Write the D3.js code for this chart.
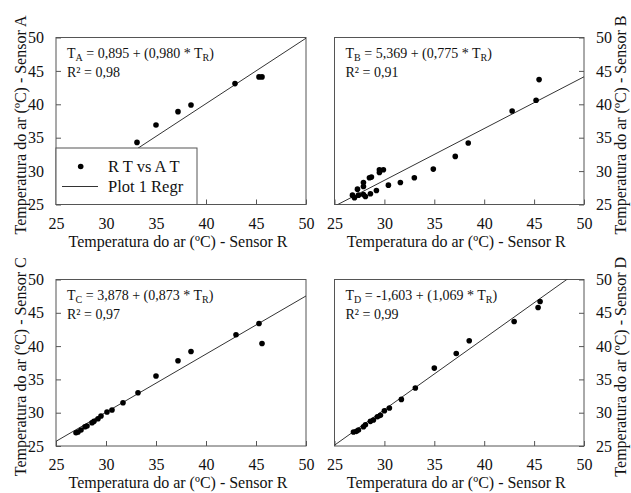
<!DOCTYPE html>
<html>
<head>
<meta charset="utf-8">
<script src="https://cdn.jsdelivr.net/npm/d3@7"></script>
<style>
    body { margin: 0; background: #fff; }
    svg { display: block; }
    text { font-family: "Liberation Serif", "DejaVu Serif", serif; }
</style>
</head>
<body>
<div id="chart"></div>
<script>
// axis ticks shared by all four panels
const TICKS = [25, 30, 35, 40, 45, 50];

// sensor R temperature vs sensor temperature
const rA = [33.1, 35.0, 37.2, 38.5, 42.9, 45.3, 45.6];
const tA = [34.3, 36.9, 38.9, 39.9, 43.1, 44.1, 44.1];

const rB = [26.8, 27.0, 27.3, 27.4, 27.9, 27.9, 27.9, 28.1, 28.5, 28.6, 28.7, 29.2, 29.5, 29.5, 29.9, 30.4,
    31.6, 33.0, 34.9, 37.1, 38.4, 42.8, 45.2, 45.5];
const tB = [26.4, 26.0, 27.3, 26.4, 28.3, 27.7, 26.5, 26.2, 29.0, 26.6, 29.1, 27.1, 29.8, 30.2, 30.2, 27.9,
    28.3, 29.0, 30.3, 32.2, 34.2, 39.0, 40.6, 43.7];

const rC = [27.0, 27.2, 27.5, 27.9, 28.1, 28.6, 28.8, 29.2, 29.5, 30.1, 30.6, 31.7, 33.2, 35.0, 37.2, 38.5,
    43.0, 45.3, 45.6];
const tC = [27.0, 27.1, 27.4, 27.9, 28.0, 28.5, 28.7, 29.1, 29.5, 30.1, 30.4, 31.5, 33.0, 35.5, 37.8, 39.2,
    41.7, 43.4, 40.4];

const rD = [26.9, 27.2, 27.4, 27.9, 28.1, 28.6, 28.9, 29.3, 29.6, 30.0, 30.5, 31.7, 33.1, 35.0, 37.2, 38.5,
    43.0, 45.4, 45.6];
const tD = [27.1, 27.2, 27.4, 27.9, 28.2, 28.7, 28.9, 29.4, 29.6, 30.3, 30.7, 32.0, 33.7, 36.7, 38.9, 40.8,
    43.7, 45.8, 46.7];

// regression coefficients [intercept, slope]
const coefA = [0.895, 0.980];
const coefB = [5.369, 0.775];
const coefC = [3.878, 0.873];
const coefD = [-1.603, 1.069];

const width = 631;
const height = 493;
const FRAME = '#555';
const FONT = '"Liberation Serif", "DejaVu Serif", serif';

const panels = [
    { key: 'A', r: rA, t: tA, coef: coefA, eqA: '0,895', eqB: '0,980', r2: '0,98', x: [56, 306], y: [204.5, 37.5], side: 'left' },
    { key: 'B', r: rB, t: tB, coef: coefB, eqA: '5,369', eqB: '0,775', r2: '0,91', x: [334.5, 584], y: [204.5, 37.5], side: 'right' },
    { key: 'C', r: rC, t: tC, coef: coefC, eqA: '3,878', eqB: '0,873', r2: '0,97', x: [56, 306], y: [446, 279.5], side: 'left' },
    { key: 'D', r: rD, t: tD, coef: coefD, eqA: '-1,603', eqB: '1,069', r2: '0,99', x: [334.5, 584], y: [446, 279.5], side: 'right' },
];

const svg = d3.select('#chart')
    .append('svg')
    .attr('width', width)
    .attr('height', height)
    .attr('font-family', FONT);

panels.forEach((p) => {
    const x = d3.scaleLinear().domain([25, 50]).range(p.x);
    const y = d3.scaleLinear().domain([25, 50]).range(p.y);
    const g = svg.append('g');

    g.append('clipPath')
        .attr('id', `clip${p.key}`)
        .append('rect')
        .attr('x', p.x[0])
        .attr('y', p.y[1])
        .attr('width', p.x[1] - p.x[0])
        .attr('height', p.y[0] - p.y[1]);

    // x axis, ticks pointing inward
    const xAxis = g.append('g')
        .attr('transform', `translate(0,${p.y[0]})`)
        .call(d3.axisBottom(x).tickValues(TICKS).tickSize(-5).tickPadding(13));

    // y axis on the left or right
    const yAxisGen = p.side === 'left' ? d3.axisLeft(y) : d3.axisRight(y);
    const yAxis = g.append('g')
        .attr('transform', `translate(${p.side === 'left' ? p.x[0] : p.x[1]},0)`)
        .call(yAxisGen.tickValues(TICKS).tickSize(-5).tickPadding(12));

    [xAxis, yAxis].forEach((a) => {
        a.attr('font-family', FONT).attr('font-size', 16);
        a.select('.domain').remove();
        a.selectAll('line').attr('stroke', FRAME);
        a.selectAll('text').attr('fill', '#111');
    });

    // frame
    g.append('rect')
        .attr('x', p.x[0])
        .attr('y', p.y[1])
        .attr('width', p.x[1] - p.x[0])
        .attr('height', p.y[0] - p.y[1])
        .attr('fill', 'none')
        .attr('stroke', FRAME);

    // regression line
    g.append('line')
        .attr('clip-path', `url(#clip${p.key})`)
        .attr('x1', x(25))
        .attr('y1', y(p.coef[0] + p.coef[1] * 25))
        .attr('x2', x(50))
        .attr('y2', y(p.coef[0] + p.coef[1] * 50))
        .attr('stroke', '#333')
        .attr('stroke-width', 1);

    // points
    g.selectAll('circle')
        .data(p.r.map((d, i) => ({ r: d, t: p.t[i] })))
        .enter()
        .append('circle')
        .attr('cx', (d) => x(d.r))
        .attr('cy', (d) => y(d.t))
        .attr('r', 2.8)
        .attr('fill', '#000');

    // equation and R²
    const ex = p.x[0] + 11;
    const ey = p.y[1] + 20.5;
    const eq = g.append('text')
        .attr('x', ex)
        .attr('y', ey)
        .attr('font-size', 14)
        .attr('fill', '#111');
    eq.append('tspan').text('T');
    eq.append('tspan').attr('dy', 3).attr('font-size', 10).text(p.key);
    eq.append('tspan').attr('dy', -3).text(` = ${p.eqA} + (${p.eqB} * T`);
    eq.append('tspan').attr('dy', 3).attr('font-size', 10).text('R');
    eq.append('tspan').attr('dy', -3).text(')');

    g.append('text')
        .attr('x', ex)
        .attr('y', ey + 19)
        .attr('font-size', 14)
        .attr('fill', '#111')
        .text(`R² = ${p.r2}`);

    // axis titles
    g.append('text')
        .attr('x', (p.x[0] + p.x[1]) / 2 - 3)
        .attr('y', p.y[0] + 42)
        .attr('text-anchor', 'middle')
        .attr('font-size', 16)
        .attr('fill', '#111')
        .text('Temperatura do ar (ºC) - Sensor R');

    const ty = (p.y[0] + p.y[1]) / 2 + 4;
    const tx = p.side === 'left' ? 26 : 626;
    g.append('text')
        .attr('transform', `translate(${tx},${ty}) rotate(-90)`)
        .attr('text-anchor', 'middle')
        .attr('font-size', 16)
        .attr('fill', '#111')
        .text(`Temperatura do ar (ºC) - Sensor ${p.key}`);
});

// legend sits over panel A, covering the lower part of the regression line
const legend = svg.append('g');
legend.append('rect')
    .attr('x', 56)
    .attr('y', 148)
    .attr('width', 141)
    .attr('height', 56.5)
    .attr('fill', '#fff')
    .attr('stroke', FRAME);
legend.append('circle')
    .attr('cx', 80.7)
    .attr('cy', 166.5)
    .attr('r', 2.8)
    .attr('fill', '#000');
legend.append('text')
    .attr('x', 108)
    .attr('y', 172)
    .attr('font-size', 16.5)
    .attr('fill', '#111')
    .text('R T vs A T');
legend.append('line')
    .attr('x1', 62)
    .attr('x2', 98)
    .attr('y1', 186.5)
    .attr('y2', 186.5)
    .attr('stroke', '#333');
legend.append('text')
    .attr('x', 108)
    .attr('y', 192)
    .attr('font-size', 16.5)
    .attr('fill', '#111')
    .text('Plot 1 Regr');
</script>
</body>
</html>
